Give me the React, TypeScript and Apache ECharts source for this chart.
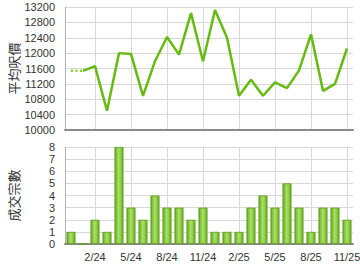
import React, { useEffect, useRef } from "react";
import * as echarts from "echarts";

const months = [
  "12/23", "1/24", "2/24", "3/24", "4/24", "5/24", "6/24", "7/24", "8/24", "9/24", "10/24", "11/24",
  "12/24", "1/25", "2/25", "3/25", "4/25", "5/25", "6/25", "7/25", "8/25", "9/25", "10/25", "11/25",
];
const avgPrice: (number | null)[] = [
  null, 11540, 11660, 10500, 12000, 11980, 10890, 11790, 12420, 11960, 13040, 11790,
  13120, 12400, 10890, 11310, 10890, 11240, 11090, 11550, 12490, 11020, 11200, 12120,
];
const avgPriceDotted: (number | null)[] = [
  11540, 11540, null, null, null, null, null, null, null, null, null, null,
  null, null, null, null, null, null, null, null, null, null, null, null,
];
const deals = [1, 0, 2, 1, 8, 3, 2, 4, 3, 3, 2, 3, 1, 1, 1, 3, 4, 3, 5, 3, 1, 3, 3, 2];

const FONT = "'Liberation Sans', Arial, sans-serif";
const labelInterval = (idx: number) => idx % 3 === 2;

export default function App() {
  const ref = useRef<HTMLDivElement>(null);
  useEffect(() => {
    if (!ref.current) return;
    const chart = echarts.init(ref.current, null, { renderer: "svg" });
    const barColor = new echarts.graphic.LinearGradient(0, 0, 1, 0, [
      { offset: 0, color: "#5fa818" },
      { offset: 0.4, color: "#a6dc62" },
      { offset: 0.6, color: "#a0d85a" },
      { offset: 1, color: "#62aa1c" },
    ]);
    chart.setOption({
      animation: false,
      textStyle: { fontFamily: FONT },
      grid: [
        { left: 65, top: 7, width: 288, height: 123, containLabel: false, outerBoundsMode: "none" },
        { left: 65, top: 147, width: 288, height: 97, containLabel: false, outerBoundsMode: "none" },
      ],
      xAxis: [
        {
          type: "category",
          gridIndex: 0,
          data: months,
          boundaryGap: true,
          axisLine: { lineStyle: { color: "#8a8a8a", width: 2 } },
          axisTick: { show: false },
          axisLabel: { show: false },
          splitLine: {
            show: true,
            interval: labelInterval,
            alignWithLabel: true,
            lineStyle: { color: "#d8d8d8", width: 1 },
          },
        },
        {
          type: "category",
          gridIndex: 1,
          data: months,
          boundaryGap: true,
          axisLine: { lineStyle: { color: "#8a8a8a", width: 2 } },
          axisTick: { show: false },
          axisLabel: {
            interval: labelInterval,
            color: "#333",
            fontSize: 11,
            fontFamily: FONT,
            margin: 7,
          },
          splitLine: {
            show: true,
            interval: labelInterval,
            alignWithLabel: true,
            lineStyle: { color: "#d8d8d8", width: 1 },
          },
        },
      ],
      yAxis: [
        {
          type: "value",
          gridIndex: 0,
          min: 10000,
          max: 13200,
          interval: 400,
          name: "平均呎價",
          nameLocation: "middle",
          nameGap: 45,
          nameMoveOverlap: false,
          nameTextStyle: { fontSize: 13, color: "#333", fontFamily: "'Noto Sans CJK TC', sans-serif" },
          axisLine: { show: true, lineStyle: { color: "#b0b0b0", width: 1 } },
          axisTick: { show: false },
          axisLabel: {
            color: "#333",
            fontSize: 11,
            fontFamily: FONT,
            margin: 10,
            formatter: (v: number) => String(v),
          },
          splitLine: { show: true, lineStyle: { color: "#d8d8d8", width: 1 } },
        },
        {
          type: "value",
          gridIndex: 1,
          min: 0,
          max: 8,
          interval: 1,
          name: "成交宗數",
          nameLocation: "middle",
          nameGap: 45,
          nameMoveOverlap: false,
          nameTextStyle: { fontSize: 13, color: "#333", fontFamily: "'Noto Sans CJK TC', sans-serif" },
          axisLine: { show: true, lineStyle: { color: "#b0b0b0", width: 1 } },
          axisTick: { show: false },
          axisLabel: {
            color: "#333",
            fontSize: 11,
            fontFamily: FONT,
            margin: 10,
            formatter: (v: number) => String(v),
          },
          splitLine: { show: true, lineStyle: { color: "#d8d8d8", width: 1 } },
        },
      ],
      series: [
        {
          type: "line",
          xAxisIndex: 0,
          yAxisIndex: 0,
          data: avgPriceDotted,
          symbol: "none",
          lineStyle: { color: "#8ad43a", width: 2.5, type: [2, 2.5] },
        },
        {
          type: "line",
          xAxisIndex: 0,
          yAxisIndex: 0,
          data: avgPrice,
          symbol: "none",
          lineStyle: { color: "#66bb11", width: 2.5 },
        },
        {
          type: "bar",
          xAxisIndex: 1,
          yAxisIndex: 1,
          data: deals,
          barWidth: 9,
          itemStyle: { color: barColor, borderColor: "#5a9e16", borderWidth: 0.8 },
        },
      ],
    });
    return () => chart.dispose();
  }, []);
  return (
    <div
      ref={ref}
      style={{ position: "fixed", left: 0, top: 0, width: 360, height: 270, background: "#fff" }}
    />
  );
}
